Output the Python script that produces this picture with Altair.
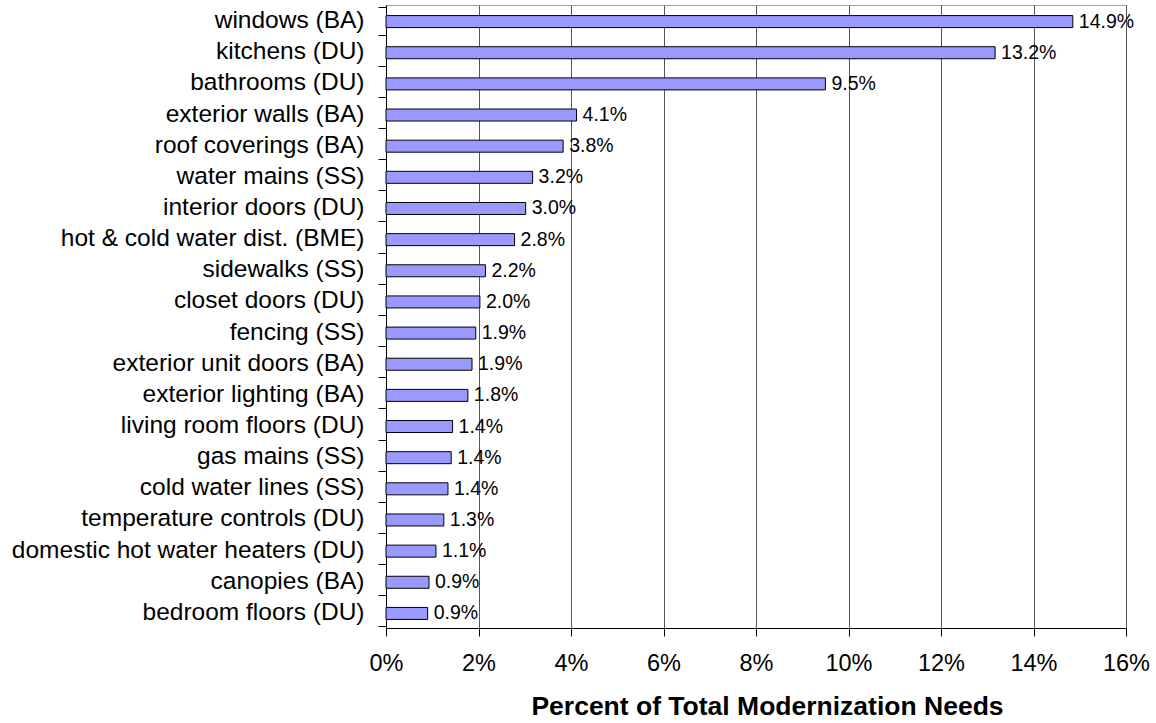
import altair as alt
import pandas as pd

categories = [
    "windows (BA)", "kitchens (DU)", "bathrooms (DU)", "exterior walls (BA)",
    "roof coverings (BA)", "water mains (SS)", "interior doors (DU)",
    "hot & cold water dist. (BME)", "sidewalks (SS)", "closet doors (DU)",
    "fencing (SS)", "exterior unit doors (BA)", "exterior lighting (BA)",
    "living room floors (DU)", "gas mains (SS)", "cold water lines (SS)",
    "temperature controls (DU)", "domestic hot water heaters (DU)",
    "canopies (BA)", "bedroom floors (DU)",
]
values = [14.85, 13.17, 9.5, 4.12, 3.83, 3.17, 3.02, 2.78, 2.15, 2.03,
          1.94, 1.86, 1.77, 1.44, 1.41, 1.34, 1.25, 1.08, 0.93, 0.90]
labels = ["14.9%", "13.2%", "9.5%", "4.1%", "3.8%", "3.2%", "3.0%", "2.8%",
          "2.2%", "2.0%", "1.9%", "1.9%", "1.8%", "1.4%", "1.4%", "1.4%",
          "1.3%", "1.1%", "0.9%", "0.9%"]
x_ticks = [0, 2, 4, 6, 8, 10, 12, 14, 16]

df = pd.DataFrame({"item": categories, "pct": values, "label": labels})

FONT = "Liberation Sans"

y_enc = alt.Y(
    "item:N", sort=categories, title=None,
    axis=alt.Axis(
        tickBand="extent", ticks=True, tickSize=8, tickColor="black",
        domainColor="black", labelFontSize=24.5, labelColor="black",
        labelFont=FONT, labelPadding=14, grid=False, labelLimit=500,
    ),
)
x_enc = alt.X(
    "pct:Q",
    scale=alt.Scale(domain=[0, 16], nice=False, zero=True),
    axis=alt.Axis(
        values=x_ticks, labelExpr="datum.value + '%'", grid=True,
        gridColor="#555555", gridWidth=1, tickSize=8, tickColor="black",
        domainColor="black", labelFontSize=23.5, labelColor="black",
        labelFont=FONT, labelPadding=15, labelFlush=False,
        title="Percent of Total Modernization Needs", titleFont=FONT,
        titleFontSize=26.5, titleFontWeight="bold", titleColor="black",
        titlePadding=19, titleX=381, titleAlign="center",
    ),
)

bars = alt.Chart(df).mark_bar(
    size=12, color="#9999ff", stroke="black", strokeWidth=1, yOffset=1
).encode(x=x_enc, y=y_enc)

text = alt.Chart(df).mark_text(
    align="left", baseline="middle", dx=6, dy=1, fontSize=19.5, font=FONT,
    color="black"
).encode(
    x=alt.X("pct:Q"), y=alt.Y("item:N", sort=categories), text="label:N"
)

chart = (
    (bars + text)
    .properties(
        width=740, height=623,
        padding={"left": 386, "top": 5, "right": 30, "bottom": 95},
        autosize="none",
        background="white",
    )
    .configure_view(stroke="#a0a0a0", strokeWidth=1)
)

chart.save("out.html", embed_options={"renderer": "svg", "actions": False})
